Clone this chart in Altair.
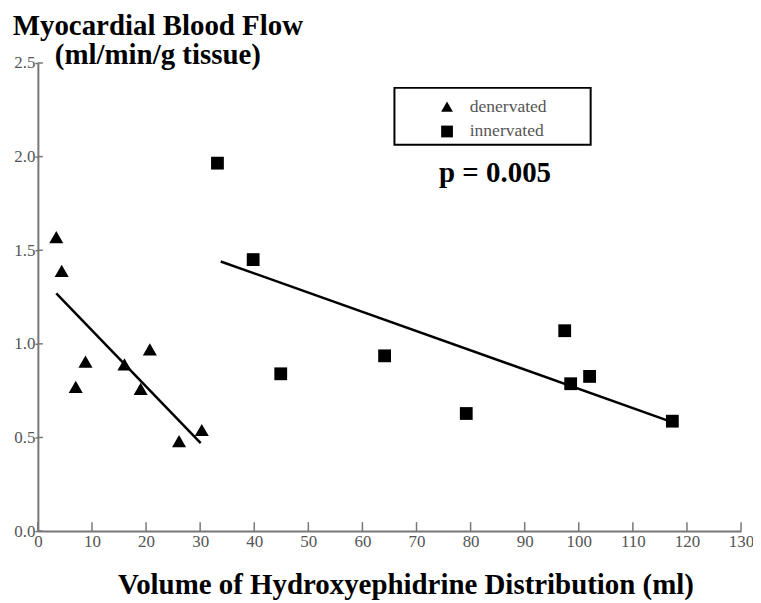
import altair as alt
import pandas as pd

# ---- data ----
den_x = [3.4, 4.4, 7.0, 8.8, 16.0, 19.0, 20.7, 26.1, 30.3]
den_y = [1.57, 1.39, 0.77, 0.905, 0.89, 0.76, 0.97, 0.48, 0.54]
inn_x = [33.2, 39.8, 44.9, 64.1, 79.2, 97.4, 98.5, 102.0, 117.3]
inn_y = [1.965, 1.45, 0.84, 0.936, 0.628, 1.07, 0.787, 0.826, 0.587]

den_fit_x = [3.4, 30.1]
den_fit_y = [1.27, 0.47]
inn_fit_x = [33.8, 117.0]
inn_fit_y = [1.44, 0.585]

groups = ["denervated", "innervated"]
x_ticks = list(range(0, 131, 10))
y_ticks = [0.0, 0.5, 1.0, 1.5, 2.0, 2.5]
p_label = "p = 0.005"

pts = pd.DataFrame({
    "vol": den_x + inn_x,
    "mbf": den_y + inn_y,
    "group": [groups[0]] * len(den_x) + [groups[1]] * len(inn_x),
})
fits = pd.DataFrame({
    "vol": den_fit_x + inn_fit_x,
    "mbf": den_fit_y + inn_fit_y,
    "group": [groups[0]] * 2 + [groups[1]] * 2,
})
xt = pd.DataFrame({"t": x_ticks})
yt = pd.DataFrame({"t": y_ticks})
one = pd.DataFrame({"k": [0]})

SERIF = "Liberation Serif"
W, H = 706, 470

xscale = alt.Scale(domain=[0, 130], nice=False, zero=False)
yscale = alt.Scale(domain=[0, 2.5], nice=False, zero=False)

xaxis = alt.Axis(
    values=x_ticks, format="d", ticks=False, labelPadding=2, labelFlush=False,
    labelFont=SERIF, labelFontSize=17, labelColor="#555555",
    title="Volume of Hydroxyephidrine Distribution (ml)",
    titleX=369, titleY=63, titleAlign="center", titleBaseline="alphabetic",
    titleFont=SERIF, titleFontSize=29, titleFontWeight="bold", titleColor="black",
    grid=False,
)
yaxis = alt.Axis(
    values=y_ticks, format=".1f", tickSize=3, labelPadding=0, labelFlush=False,
    labelFont=SERIF, labelFontSize=17, labelColor="#555555",
    title=["Myocardial Blood Flow", "(ml/min/g tissue)"],
    titleAngle=0, titleX=120, titleY=-29, titleAlign="center", titleBaseline="alphabetic",
    titleLineHeight=30,
    titleFont=SERIF, titleFontSize=29, titleFontWeight="bold", titleColor="black",
    grid=False,
)

shape_enc = alt.Shape(
    "group:N",
    scale=alt.Scale(domain=groups, range=["triangle-up", "square"]),
    legend=alt.Legend(
        title=None, orient="none", legendX=402, legendY=35,
        padding=0, symbolOffset=0, labelOffset=14, rowPadding=6,
        symbolFillColor="black", symbolStrokeColor="black", symbolSize=140,
        labelFont=SERIF, labelFontSize=17.6, labelColor="#555555",
    ),
)

def point_layer(name, size):
    return alt.Chart(pts).transform_filter(
        alt.datum.group == name
    ).mark_point(filled=True, color="black", opacity=1, size=size).encode(
        x=alt.X("vol:Q", scale=xscale, axis=xaxis),
        y=alt.Y("mbf:Q", scale=yscale, axis=yaxis),
        shape=shape_enc,
    )

tri_pts = point_layer(groups[0], 200)
sq_pts = point_layer(groups[1], 165)

lines = alt.Chart(fits).mark_line(color="black", strokeWidth=2.5).encode(
    x=alt.X("vol:Q", scale=xscale),
    y=alt.Y("mbf:Q", scale=yscale),
    detail="group:N",
)

xticks_in = alt.Chart(xt).mark_rule(color="#777777", strokeWidth=1.5).encode(
    x=alt.X("t:Q", scale=xscale),
    y=alt.value(H),
    y2=alt.value(H - 9),
)
yticks_in = alt.Chart(yt).mark_rule(color="#777777", strokeWidth=1.5).encode(
    y=alt.Y("t:Q", scale=yscale),
    x=alt.value(0),
    x2=alt.value(5),
)

legend_box = alt.Chart(one).mark_rect(fill="white", stroke="black", strokeWidth=2).encode(
    x=alt.value(358), x2=alt.value(555), y=alt.value(25), y2=alt.value(82),
)

ptext = alt.Chart(one).mark_text(
    text=p_label, font=SERIF, fontSize=29, fontWeight="bold", color="black",
    align="center", baseline="alphabetic",
).encode(x=alt.value(459), y=alt.value(120))

chart = alt.layer(legend_box, xticks_in, yticks_in, lines, tri_pts, sq_pts, ptext).properties(
    width=W, height=H,
    autosize=alt.AutoSizeParams(type="none"),
    padding={"left": 30, "top": 54, "right": 12, "bottom": 70},
).configure(
    background="white",
).configure_view(
    stroke=None,
).configure_axis(
    domainColor="#777777", domainWidth=2, tickColor="#777777", tickWidth=1.5,
)

chart.save("out.html", embed_options={"renderer": "svg", "actions": False})
